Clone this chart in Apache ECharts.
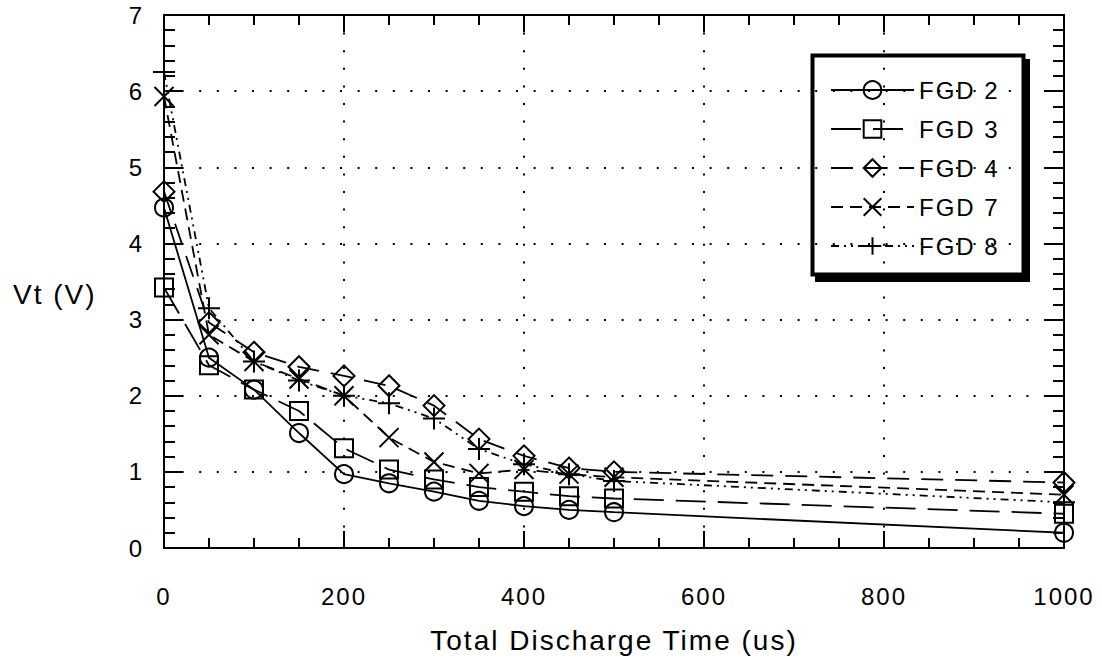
<!DOCTYPE html>
<html>
<head>
<meta charset="utf-8">
<script src="https://cdn.jsdelivr.net/npm/echarts@6/dist/echarts.min.js"></script>
<style>
  html, body { margin: 0; padding: 0; background: #fff; }
  #chart { width: 1102px; height: 667px; }
  /* wide character spacing of the original plotting package */
  #chart text { letter-spacing: 2px !important; }
</style>
</head>
<body>
<div id="chart"></div>
<script>
// Total discharge time (us) at which the terminal voltage was measured
const times = [0, 50, 100, 150, 200, 250, 300, 350, 400, 450, 500, 1000];

// Terminal voltage Vt (V) per device
const fgd2 = [4.47, 2.50, 2.08, 1.51, 0.97, 0.85, 0.74, 0.62, 0.55, 0.50, 0.47, 0.20];
const fgd3 = [3.42, 2.40, 2.08, 1.80, 1.31, 1.03, 0.90, 0.80, 0.74, 0.68, 0.65, 0.45];
const fgd4 = [4.68, 2.96, 2.57, 2.38, 2.26, 2.13, 1.87, 1.43, 1.21, 1.05, 1.00, 0.86];
const fgd7 = [5.93, 2.80, 2.45, 2.22, 2.00, 1.45, 1.13, 0.98, 1.03, 0.97, 0.93, 0.70];
const fgd8 = [6.25, 3.15, 2.45, 2.20, 2.00, 1.90, 1.70, 1.30, 1.10, 0.97, 0.88, 0.60];

const seriesNames = ['FGD 2', 'FGD 3', 'FGD 4', 'FGD 7', 'FGD 8'];
const xTickValues = [0, 200, 400, 600, 800, 1000];

const FONT = '"Liberation Sans", Arial, sans-serif';
const INK = '#000';

const chart = echarts.init(document.getElementById('chart'), null, { renderer: 'svg' });

function pairs(ys) {
  return times.map((t, i) => [t, ys[i]]);
}

const markerStyle = { color: 'rgba(0,0,0,0)', borderColor: INK, borderWidth: 2 };

function makeSeries(name, ys, symbol, size, dash) {
  return {
    name: name,
    type: 'line',
    data: pairs(ys),
    xAxisIndex: 0,
    yAxisIndex: 0,
    symbol: symbol,
    symbolSize: size,
    showAllSymbol: true,
    lineStyle: { color: INK, width: 1.8, type: dash },
    itemStyle: markerStyle,
    emphasis: { disabled: true },
    animation: false,
    z: 3
  };
}

const crossPath = 'path://M0,0L20,20M20,0L0,20';
const plusPath = 'path://M10,0L10,20M0,10L20,10';

const frameTick = { show: true, inside: true, length: 17, lineStyle: { color: INK, width: 2 } };
const frameMinor = { show: true, splitNumber: 4, length: 10, lineStyle: { color: INK, width: 2 } };
const yTick = { show: true, inside: true, length: 19, lineStyle: { color: INK, width: 2 } };
const yMinor = { show: true, splitNumber: 5, length: 11, lineStyle: { color: INK, width: 2 } };
const frameLine = { show: true, onZero: false, lineStyle: { color: INK, width: 2 } };
const dotted = { show: true, lineStyle: { color: INK, width: 2, type: [2, 15.6] } };

const option = {
  backgroundColor: '#fff',
  animation: false,
  grid: { left: 164, right: 38, top: 15, bottom: 119, containLabel: false },
  xAxis: [
    {
      type: 'value', min: 0, max: 1000, interval: 200, position: 'bottom',
      axisLine: frameLine, axisTick: frameTick, minorTick: frameMinor,
      splitLine: dotted,
      axisLabel: {
        color: INK, fontFamily: FONT, fontSize: 24, margin: 36,
        customValues: xTickValues,
        formatter: (v) => String(v)
      },
      name: 'Total Discharge Time (us)', nameLocation: 'middle', nameGap: 78,
      nameTextStyle: { color: INK, fontFamily: FONT, fontSize: 28 }
    },
    {
      type: 'value', min: 0, max: 1000, interval: 200, position: 'top',
      axisLine: frameLine, axisTick: frameTick, minorTick: frameMinor,
      splitLine: { show: false }, axisLabel: { show: false }
    }
  ],
  yAxis: [
    {
      type: 'value', min: 0, max: 7, interval: 1, position: 'left',
      axisLine: frameLine, axisTick: yTick, minorTick: yMinor,
      splitLine: dotted,
      axisLabel: { color: INK, fontFamily: FONT, fontSize: 24, margin: 20, formatter: (v) => String(v) }
    },
    {
      type: 'value', min: 0, max: 7, interval: 1, position: 'right',
      axisLine: frameLine, axisTick: yTick, minorTick: yMinor,
      splitLine: { show: false }, axisLabel: { show: false }
    }
  ],
  legend: {
    data: seriesNames,
    orient: 'vertical',
    left: 830, top: 78,
    padding: 0,
    itemWidth: 83, itemHeight: 22, itemGap: 15,
    textStyle: { color: INK, fontFamily: FONT, fontSize: 24 },
    inactiveColor: INK,
    selectedMode: false
  },
  graphic: [
    {
      type: 'text', left: 13, top: 280, silent: true,
      style: { text: 'Vt (V)', fill: INK, font: '28px "Liberation Sans", Arial, sans-serif' }
    },
    // legend frame with its heavy drop edge
    {
      type: 'rect', silent: true, z: 10,
      shape: { x: 1022, y: 59, width: 8, height: 223 },
      style: { fill: INK }
    },
    {
      type: 'rect', silent: true, z: 10,
      shape: { x: 815, y: 273, width: 215, height: 9 },
      style: { fill: INK }
    },
    {
      type: 'rect', silent: true, z: 10,
      shape: { x: 812.5, y: 55.5, width: 211, height: 219 },
      style: { fill: 'none', stroke: INK, lineWidth: 4 }
    }
  ],
  series: [
    makeSeries('FGD 2', fgd2, 'circle', 18, 'solid'),
    makeSeries('FGD 3', fgd3, 'rect', 18, [30, 12]),
    makeSeries('FGD 4', fgd4, 'diamond', 21, [22, 12]),
    makeSeries('FGD 7', fgd7, crossPath, 19, [12, 7]),
    makeSeries('FGD 8', fgd8, plusPath, 22, [8, 5, 2, 5, 2, 5])
  ]
};

chart.setOption(option);
</script>
</body>
</html>
